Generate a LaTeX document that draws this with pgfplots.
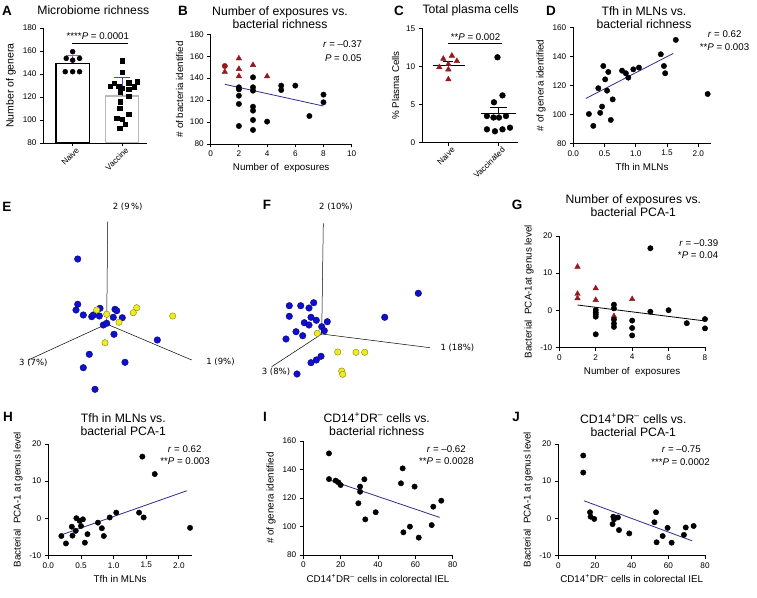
\documentclass[border=0pt]{standalone}
\usepackage{fontspec}
\setmainfont{Liberation Sans}
\newfontfamily\dejavu{DejaVu Sans}
\usepackage{pgfplots}
\pgfplotsset{compat=1.18}
\definecolor{dred}{RGB}{150,25,30}
\definecolor{navy}{RGB}{45,45,140}
\definecolor{pblue}{RGB}{15,15,205}
\definecolor{pyel}{RGB}{240,235,30}
\definecolor{emag}{RGB}{205,70,205}
\definecolor{eblue}{RGB}{70,70,205}
\newcommand\tfont{\fontsize{12.2}{13}\selectfont}
\newcommand\sfont{\fontsize{9.7}{11}\selectfont}
\newcommand\lfont{\fontsize{13.5}{15}\selectfont\bfseries}
\newcommand\efont{\dejavu\fontsize{8.5}{9}\selectfont}
\tikzset{lett/.style={font=\lfont}}
\pgfplotsset{
  gp/.style={scale only axis, anchor=south west,
    axis x line*=bottom, axis y line*=left,
    axis line style={-, line width=0.9pt},
    tick align=outside, major tick length=3.5pt,
    tick style={black, line width=0.9pt},
    tick label style={font=\fontsize{8.2}{9}\selectfont},
    label style={font=\fontsize{9.8}{10}\selectfont},
    /pgf/number format/assume math mode=true,
    clip=false},
  dot/.style={only marks, mark=*, mark size=2.7pt, black},
  tri/.style={only marks, mark=triangle*, mark size=3.2pt, dred, mark options={fill=dred}},
  reg/.style={navy, line width=0.8pt, mark=none},
  pca/.style={scale only axis, anchor=south west, hide axis, clip=false, y dir=reverse},
  bball/.style={only marks, mark=*, mark size=3.3pt, mark options={fill=pblue, draw=pblue!60!black, line width=0.4pt}},
  yball/.style={only marks, mark=*, mark size=3.2pt, mark options={fill=pyel, draw=pyel!55!black, line width=0.4pt}},
  catlab/.style={xticklabel style={rotate=45, anchor=north east, inner sep=1pt, xshift=3pt, yshift=-1pt}},
}
\begin{document}
\begin{tikzpicture}
\path[use as bounding box] (0,0) rectangle (757pt,597pt);

% ---------------- A ----------------
\begin{axis}[gp, catlab, clip=true, at={(43.5pt,454pt)}, width=103.8pt, height=115pt,
  xmin=-0.59, xmax=1.51, ymin=80, ymax=180, ytick={80,100,...,180},
  xtick={0,1}, xticklabels={Naive,Vaccine},
  ylabel={Number of genera}, ylabel style={font=\fontsize{10.5}{11}\selectfont}]
\addplot[ybar, bar width=0.67, bar shift=0pt, draw=black, line width=1.3pt, fill=white] coordinates {(0,149.3)};
\addplot[ybar, bar width=0.67, bar shift=0pt, draw=gray!55, line width=1.3pt, fill=white] coordinates {(1,120.9)};
\addplot[only marks, mark=*, mark size=2.5pt, black] coordinates {(0,159.4) (-0.13,153.6) (0.14,153.6) (0,152) (-0.15,142) (0,142) (0.14,142)};
\addplot[only marks, mark=square*, mark size=2.2pt, black] coordinates {(1,151.6) (1,141.5) (0.76,129.6) (0.84,131.9) (0.93,129.6) (1.13,132.4) (1.13,126.7) (1.25,129) (1.31,133.3) (0.96,124.6) (1,127.6) (1.13,120.9) (0.96,115.9) (0.95,110.2) (1.13,105.2) (0.89,101.5) (1,100.6) (1.06,96.3) (0.95,92.8)};
\addplot[emag, line width=1pt] coordinates {(0,149.3) (0,155.9)};
\addplot[emag, line width=1pt] coordinates {(-0.14,155.9) (0.16,155.9)};
\addplot[eblue, line width=1pt] coordinates {(1,120.9) (1,136.8)};
\addplot[eblue, line width=1pt] coordinates {(0.84,136.8) (1.16,136.8)};
\end{axis}
\node[lett] at (7pt,586pt) {A};
\node[font=\tfont] at (93.3pt,587pt) {Microbiome richness};
\node[font=\sfont] at (97.8pt,561pt) {****\textit{P} = 0.0001};
\draw[line width=0.8pt] (72.3pt,553.7pt) -- (128.3pt,553.7pt);

% ---------------- B ----------------
\begin{axis}[gp, at={(210.7pt,453pt)}, width=141pt, height=109.7pt,
  xmin=0, xmax=10, ymin=80, ymax=180, ytick={80,100,...,180}, xtick={0,2,...,10},
  xlabel={Number of~ exposures}, ylabel={\# of bacteria identified}]
\addplot[reg] coordinates {(1,134.4) (8,114.6)};
\addplot[tri] coordinates {(1,145.7) (2,158) (2,148.4) (2,141.7) (3,152) (4,141.7)};
\addplot[only marks, mark=*, mark size=2.7pt, dred] coordinates {(1,151.1)};
\addplot[dot] coordinates {(2,131.7) (2,129.8) (2,124) (2,116.5) (2,96.4) (3,140.8) (3,131.7) (3,128.6) (3,114) (3,110.4) (3,101.9) (3,92.8) (4,100.4) (5,133.2) (5,129.2) (6,133.2) (7,105.5) (8,125) (8,118)};
\end{axis}
\node[lett] at (183pt,586pt) {B};
\node[font=\tfont, align=center] at (280pt,579.5pt) {Number of exposures vs.\\bacterial richness};
\node[font=\sfont, anchor=east] at (365.5pt,553pt) {\textit{r} = –0.37};
\node[font=\sfont, anchor=east] at (365pt,539pt) {\textit{P} = 0.05};

% ---------------- C ----------------
\begin{axis}[gp, catlab, at={(422.3pt,454.3pt)}, width=95.7pt, height=114.4pt,
  xmin=-0.52, xmax=1.39, ymin=0, ymax=15, ytick={0,5,10,15},
  xtick={0,1}, xticklabels={Naive,Vaccinated},
  ylabel={\% Plasma Cells}]
\addplot[tri] coordinates {(-0.1,11.0) (0.07,11.4) (0.17,10.7) (-0.18,9.9) (0.0,10.3) (0.0,9.6) (0.0,8.3)};
\addplot[only marks, mark=*, mark size=2.9pt, black] coordinates {(0.98,11.2) (1.08,6.2) (0.91,5.3) (0.77,3.5) (0.9,3.3) (1.01,3.3) (1.15,3.5) (0.77,1.75) (0.93,1.5) (1.08,1.75) (1.23,1.97)};
\addplot[black, line width=0.9pt] coordinates {(-0.31,10.1) (0.33,10.1)};
\addplot[black, line width=0.9pt] coordinates {(0,10.1) (0,10.6)};
\addplot[black, line width=0.9pt] coordinates {(-0.1,10.6) (0.1,10.6)};
\addplot[black, line width=0.9pt] coordinates {(0.65,3.8) (1.34,3.8)};
\addplot[black, line width=0.9pt] coordinates {(1,3.8) (1,4.6)};
\addplot[black, line width=0.9pt] coordinates {(0.83,4.6) (1.17,4.6)};
\end{axis}
\node[lett] at (399pt,586pt) {C};
\node[font=\tfont] at (470.7pt,587pt) {Total plasma cells};
\node[font=\sfont] at (475.5pt,560.3pt) {**\textit{P} = 0.002};
\draw[line width=0.8pt] (448pt,553.7pt) -- (502pt,553.7pt);

% ---------------- D ----------------
\begin{axis}[gp, at={(573.3pt,453.7pt)}, width=137.5pt, height=116pt,
  xmin=0, xmax=2.2, ymin=80, ymax=160, ytick={80,100,...,160}, xtick={0,0.5,...,2},
  xticklabel style={/pgf/number format/.cd, fixed, fixed zerofill, precision=1},
  xlabel={Tfh in MLNs}, ylabel={\# of genera identified}]
\addplot[reg] coordinates {(0.2,110.9) (1.6,142)};
\addplot[dot] coordinates {(0.25,100.2) (0.32,92) (0.4,118) (0.43,101) (0.46,105.3) (0.48,133.3) (0.51,124.1) (0.54,116.3) (0.56,129.2) (0.6,96.1) (0.63,110.3) (0.78,130.1) (0.84,128.3) (0.88,125.3) (0.96,131) (1.05,132.2) (1.4,141.4) (1.45,133.3) (1.47,128.3) (1.64,151.3) (2.15,114)};
\end{axis}
\node[lett] at (551pt,586pt) {D};
\node[font=\tfont, align=center] at (644pt,579.5pt) {Tfh in MLNs vs.\\bacterial richness};
\node[font=\sfont, anchor=east] at (745pt,563pt) {\textit{r} = 0.62};
\node[font=\sfont, anchor=east] at (752.7pt,550.3pt) {**\textit{P} = 0.003};

% ---------------- E ----------------
\begin{axis}[pca, at={(0pt,197pt)}, width=200pt, height=200pt, xmin=0, xmax=200, ymin=200, ymax=400]
\addplot[black, line width=0.5pt] coordinates {(106.7,324) (107.7,221.7)};
\addplot[black, line width=0.5pt] coordinates {(106.7,324) (28.3,360)};
\addplot[black, line width=0.5pt] coordinates {(106.7,324) (191.7,360)};
\addplot[bball] coordinates {(77.7,259) (77.7,304.3) (76,310) (83.3,315) (91.7,316.7) (93.3,315) (100,308.3) (99.3,316) (115,309.3) (116.7,310.7) (113.3,317.3) (122.3,317.7) (103.3,325) (106.7,323.3) (114,334.3) (157.3,340) (89.3,354.3) (125,362.3) (83.3,367.7) (95,389.3)};
\addplot[yball] coordinates {(96.7,310) (106.7,314.3) (136.7,307.7) (133.3,312.7) (119,322.3) (172.7,316) (105,342.7)};
\node[font=\efont] at (axis cs:127.7,207.3) {2 (9\,\%)};
\node[font=\efont] at (axis cs:33.3,362.7) {3 (7\%)};
\node[font=\efont] at (axis cs:220.5,361.7) {1 (9\%)};
\end{axis}
\node[lett] at (7pt,390pt) {E};

% ---------------- F ----------------
\begin{axis}[pca, at={(200pt,197pt)}, width=260pt, height=200pt, xmin=200, xmax=460, ymin=200, ymax=400]
\addplot[black, line width=0.5pt] coordinates {(321.7,334) (323.3,223.3)};
\addplot[black, line width=0.5pt] coordinates {(321.7,334) (271.7,366.7)};
\addplot[black, line width=0.5pt] coordinates {(321.7,334) (430,347.7)};
\addplot[bball] coordinates {(289.3,305.7) (300.7,305.7) (309,308) (313.7,302.7) (289.3,316.3) (311,317.3) (316.3,320.3) (304.3,322.7) (309,325) (327.3,321.7) (321.7,326.7) (324.3,330.7) (296,331.7) (302.7,335.7) (286,339) (384.7,317.3) (418.3,293.3) (321,356.3) (316.3,360) (311,362.7) (297,374)};
\addplot[yball] coordinates {(317.3,333.3) (337.7,352) (356,352.3) (364.7,352.3) (341.7,371) (342.7,374.3)};
\node[font=\efont] at (axis cs:336,207.3) {2 (10\%)};
\node[font=\efont] at (axis cs:276,371.7) {3 (8\%)};
\node[font=\efont, anchor=west] at (axis cs:437,348) {1 (18\%)};
\end{axis}
\node[lett] at (267pt,392pt) {F};

% ---------------- G ----------------
\begin{axis}[gp, at={(559.3pt,249.7pt)}, width=145.7pt, height=111.3pt,
  xmin=0, xmax=8, ymin=-10, ymax=20, ytick={-10,0,10,20}, xtick={0,2,...,8},
  xlabel={Number of~ exposures}, ylabel={Bacterial~ PCA-1at genus level}]
\addplot[black, line width=0.8pt] coordinates {(1,1.4) (8,-2.9)};
\addplot[tri] coordinates {(1,11.7) (1,4.4) (1,3.2) (2,5.9) (2,2.75) (4,3.0) (3,-1.6)};
\addplot[dot] coordinates {(2,0.05) (2,-0.6) (2,-1.1) (2,-1.75) (2,-6.5) (3,1.5) (3,0.5) (3,-2.5) (3,-3.6) (3,-4.5) (4,-2.8) (4,-4.8) (4,-6.8) (5,16.7) (5,-0.4) (6,0.0) (7,-3.5) (8,-2.4) (8,-4.9)};
\end{axis}
\node[lett] at (517pt,392pt) {G};
\node[font=\tfont, align=center] at (633.3pt,391.3pt) {Number of exposures vs.\\bacterial PCA-1};
\node[font=\sfont, anchor=east] at (721.7pt,353.7pt) {\textit{r} = –0.39};
\node[font=\sfont, anchor=east] at (721.7pt,341.7pt) {*\textit{P} = 0.04};

% ---------------- H ----------------
\begin{axis}[gp, at={(48.3pt,41.7pt)}, width=143.7pt, height=111.3pt,
  xmin=0, xmax=2.2, ymin=-10, ymax=20, ytick={-10,0,10,20}, xtick={0,0.5,...,2},
  xticklabel style={/pgf/number format/.cd, fixed, fixed zerofill, precision=1},
  xlabel={Tfh in MLNs}, ylabel={Bacterial~ PCA-1 at genus level}]
\addplot[reg] coordinates {(0.2,-4.5) (2.12,7.4)};
\addplot[dot] coordinates {(0.2,-4.8) (0.27,-6.8) (0.36,-2.3) (0.37,-4.7) (0.42,-3.4) (0.43,0.0) (0.48,-0.7) (0.5,-2.1) (0.53,-0.3) (0.56,-6.6) (0.6,-4.3) (0.76,-1.2) (0.82,-2.7) (0.85,-4.8) (0.94,0.2) (1.04,1.5) (1.39,1.5) (1.44,16.6) (1.46,0.2) (1.63,11.9) (2.17,-2.6)};
\end{axis}
\node[lett] at (8pt,180pt) {H};
\node[font=\tfont, align=center] at (123.3pt,172pt) {Tfh in MLNs vs.\\bacterial PCA-1};
\node[font=\sfont, anchor=east] at (205pt,147.7pt) {\textit{r} = 0.62};
\node[font=\sfont, anchor=east] at (213.3pt,136pt) {**\textit{P} = 0.003};

% ---------------- I ----------------
\begin{axis}[gp, at={(303.3pt,42pt)}, width=149.4pt, height=114pt,
  xmin=0, xmax=80, ymin=80, ymax=160, ytick={80,100,...,160}, xtick={0,20,...,80},
  xlabel={CD14\textsuperscript{+}DR\textsuperscript{–} cells in colorectal IEL}, ylabel={\# of genera identified}]
\addplot[reg] coordinates {(14,132.6) (73,106.4)};
\addplot[dot] coordinates {(13.75,151.3) (13.75,133.3) (17.3,132.2) (18.75,131) (20,129.1) (30.4,128) (30.4,124.4) (29.5,116.3) (32.7,133.1) (33.2,105) (38.75,110) (52.3,130.3) (53.2,140.8) (53.6,95.9) (57.1,99.9) (59.6,128) (61.8,92.2) (68.75,101) (69.6,113.9) (73.9,118.1)};
\end{axis}
\node[lett] at (265pt,180pt) {I};
\node[font=\tfont, align=center] at (376.7pt,172.8pt) {CD14\textsuperscript{+}DR\textsuperscript{–} cells vs.\\bacterial richness};
\node[font=\sfont, anchor=east] at (469.3pt,147.7pt) {\textit{r} = –0.62};
\node[font=\sfont, anchor=east] at (477.3pt,136pt) {**\textit{P} = 0.0028};

% ---------------- J ----------------
\begin{axis}[gp, at={(558.3pt,41.7pt)}, width=146.7pt, height=111.3pt,
  xmin=0, xmax=80, ymin=-10, ymax=20, ytick={-10,0,10,20}, xtick={0,20,...,80},
  xlabel={CD14\textsuperscript{+}DR\textsuperscript{–} cells in colorectal IEL}, ylabel={Bacterial~ PCA-1 at genus level}]
\addplot[reg] coordinates {(14,4.7) (73,-6.1)};
\addplot[dot] coordinates {(13.6,16.9) (13.6,12.3) (17.3,1.6) (17.6,0.4) (19.6,-0.2) (30,0.4) (30.4,-0.3) (29.6,-1.6) (32.5,0.2) (33.1,-3.2) (38.7,-4.1) (52.4,-1.1) (53.3,1.6) (53.6,-6.5) (56.9,-4.8) (59.6,-2.6) (61.8,-6.6) (68.5,-4.5) (69.5,-2.5) (73.8,-2.1)};
\end{axis}
\node[lett] at (516pt,180pt) {J};
\node[font=\tfont, align=center] at (633.3pt,172pt) {CD14\textsuperscript{+}DR\textsuperscript{–} cells vs.\\bacterial PCA-1};
\node[font=\sfont, anchor=east] at (704.3pt,147.7pt) {\textit{r} = –0.75};
\node[font=\sfont, anchor=east] at (713.3pt,135.3pt) {***\textit{P} = 0.0002};
\end{tikzpicture}
\end{document}
